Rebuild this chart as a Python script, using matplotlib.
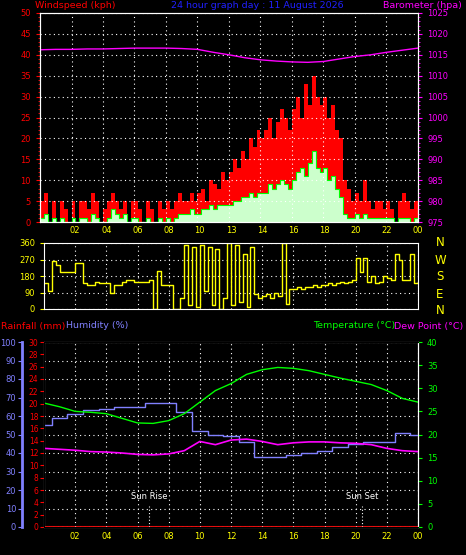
import numpy as np
import matplotlib
matplotlib.use("Agg")
import matplotlib.pyplot as plt
from matplotlib.ticker import MultipleLocator

hour_ticks = [2, 4, 6, 8, 10, 12, 14, 16, 18, 20, 22, 24]
mid_tick_labels = ["02", "04", "06", "08", "10", "13", "14", "16", "18", "20", "22", "00"]
bot_tick_labels = ["02", "04", "06", "08", "10", "12", "14", "16", "18", "20", "22", "00"]

gust = [5,7,0,5,0,5,3,0, 5,0,5,5,3,7,5,0, 3,5,7,5,3,5,0,5, 5,3,0,5,3,0,5,3,
        5,3,5,7,5,5,7,5, 7,8,5,10,9,8,12,10, 12,15,13,17,15,20,18,22, 20,22,25,20,24,27,25,22,
        27,30,25,33,28,35,30,28, 30,25,28,22,20,10,8,5, 7,5,10,5,3,5,5,3, 5,3,0,5,7,5,3,5]
avg = [1,2,0,1,0,1,0,0, 1,0,1,1,0,2,1,0, 0,1,3,2,1,2,0,1, 1,0,0,1,0,0,1,0,
       1,0,1,2,2,2,3,2, 2,3,3,4,3,4,4,4, 4,5,5,6,6,7,6,7, 7,7,9,8,9,10,9,8,
       10,12,13,11,14,17,13,12, 13,10,11,8,6,2,1,1, 2,1,2,1,1,1,1,1, 1,1,0,1,1,1,0,1]
direction = [140,100,260,240,200,200,200,200, 250,250,140,130,130,150,140,140,
             140,90,130,130,150,160,160,150, 150,150,150,160,0,210,130,130,
             130,0,0,60,350,20,340,10, 350,100,340,20,330,0,60,360,
             20,350,40,300,10,340,80,60, 70,80,60,90,70,360,30,110,
             110,120,110,120,120,130,120,130, 130,140,130,140,150,140,150,160,
             280,200,280,150,180,140,150,180, 170,160,300,270,160,160,300,140]
hours = list(range(25))
baro = [1016.2,1016.3,1016.3,1016.4,1016.4,1016.5,1016.6,1016.6,1016.6,1016.5,1016.3,1015.6,1015.0,
        1014.3,1013.8,1013.5,1013.3,1013.2,1013.4,1014.0,1014.6,1015.0,1015.6,1016.1,1016.6]
humidity = [55,59,61,63,64,65,65,67,67,62,52,50,49,46,38,38,39,40,41,43,45,46,46,51,50]
temp = [26.8,26,25,24.8,24.5,23.5,22.5,22.4,23,24.5,27,29.5,31,33,34,34.5,34.3,33.8,33,32.2,31.5,30.8,29.5,27.8,27]
dew = [17,16.8,16.6,16.3,16.2,16,15.7,15.6,15.8,16.5,18.5,17.8,18.8,19,18.5,17.8,18.2,18.4,18.4,18.2,18.1,17.8,17,16.5,16.3]
rain = [0]*25
sunrise, sunset = 6.75, 20.4

plt.rcParams['font.family'] = ['DejaVu Sans']
fig = plt.figure(figsize=(4.66, 5.55), dpi=100, facecolor='black')
W, H = 466, 555
def ax_rect(x0, y0, x1, y1):
    return [x0/W, 1-y1/H, (x1-x0)/W, (y1-y0)/H]

FS = 6
HFS = 6.8
grid_kw = dict(color='white', linestyle=(0, (1, 3)), linewidth=0.8)

def style(ax):
    ax.set_facecolor('black')
    for s in ax.spines.values():
        s.set_color('white')
    ax.set_xlim(0, 24)
    ax.set_xticks(hour_ticks)
    ax.grid(True, **grid_kw)

t15 = np.arange(97) * 0.25

# top
ax1 = fig.add_axes(ax_rect(40, 13, 418, 222))
style(ax1)
ax1.fill_between(t15, gust + [gust[-1]], step='post', color='#ff0000', linewidth=0)
ax1.fill_between(t15, avg + [avg[-1]], step='post', color='#ccffcc', linewidth=0)
ax1.step(t15, avg + [avg[-1]], where='post', color='#00ff00', linewidth=0.8)
ax1.set_ylim(0, 50)
ax1.yaxis.set_major_locator(MultipleLocator(5))
ax1.yaxis.set_minor_locator(MultipleLocator(1))
ax1.tick_params(axis='y', colors='#ff0000', labelsize=FS, which='both', length=3)
ax1.tick_params(axis='y', which='minor', length=1.5)
ax1.tick_params(axis='x', length=0, labelbottom=False)
ax1b = ax1.twinx()
ax1b.plot(hours, baro, color='#ff00ff', linewidth=1)
ax1b.set_ylim(975, 1025)
ax1b.yaxis.set_major_locator(MultipleLocator(5))
ax1b.yaxis.set_minor_locator(MultipleLocator(1))
ax1b.tick_params(axis='y', colors='#ff00ff', labelsize=FS, which='both', length=3)
ax1b.tick_params(axis='y', which='minor', length=1.5)
for s in ax1b.spines.values():
    s.set_color('white')
fig.text(35/W, 1-6/H, "Windspeed (kph)", color='#ff0000', fontsize=HFS, va='center')
fig.text(257/W, 1-6/H, "24 hour graph day : 11 August 2026", color='#2020ff', fontsize=HFS, va='center', ha='center')
fig.text(462/W, 1-6/H, "Barometer (hpa)", color='#ff00ff', fontsize=HFS, va='center', ha='right')

# middle
ax2 = fig.add_axes(ax_rect(44, 243, 418, 309))
style(ax2)
ax2.step(t15, direction + [150], where='post', color='#ffff00', linewidth=1)
ax2.set_ylim(0, 360)
ax2.set_yticks([0, 90, 180, 270, 360])
ax2.tick_params(axis='y', colors='#ffff00', labelsize=FS, length=3)
ax2.tick_params(axis='x', colors='#ffff00', labelsize=FS, length=0,
                labelbottom=False, labeltop=True, pad=6)
ax2.set_xticklabels(mid_tick_labels)
for i, lab in enumerate(["N", "W", "S", "E", "N"]):
    fig.text(440/W, 1-(243+i*17)/H, lab, color='#ffff00', fontsize=8.5, ha='center', va='center')

fig.text(1/W, 1-326/H, "Rainfall (mm)", color='#ff0000', fontsize=HFS, va='center')
fig.text(66/W, 1-326/H, "Humidity (%)", color='#8080ff', fontsize=HFS, va='center')
fig.text(313/W, 1-326/H, "Temperature (°C)", color='#00ff00', fontsize=HFS, va='center')
fig.text(463/W, 1-326/H, "Dew Point (°C)", color='#ff00ff', fontsize=HFS, va='center', ha='right')

# bottom
ax3 = fig.add_axes(ax_rect(44, 342, 418, 527))
style(ax3)
ax3.set_ylim(0, 30)
ax3.yaxis.set_major_locator(MultipleLocator(2))
ax3.tick_params(axis='y', colors='#ff0000', labelsize=FS - 0.5, length=3, pad=1)
ax3.tick_params(axis='x', colors='#ffff00', labelsize=FS, length=0)
ax3.set_xticklabels(bot_tick_labels)
ax3.grid(False)
ax3.plot(hours, rain, color='#ff0000', linewidth=1.5)
axh = ax3.twinx()
axh.spines['right'].set_visible(False)
axh.spines['left'].set_position(('outward', 16))
axh.spines['left'].set_color('#8080ff')
axh.spines['left'].set_linewidth(2)
axh.yaxis.set_label_position('left')
axh.yaxis.tick_left()
axh.set_ylim(0, 100)
axh.yaxis.set_major_locator(MultipleLocator(10))
axh.tick_params(axis='y', colors='#8080ff', labelsize=FS, length=3, pad=1)
axh.grid(True, axis='y', **grid_kw)
for h in hour_ticks:
    axh.axvline(h, **grid_kw)
axh.step(hours, humidity, where='mid', color='#8080ff', linewidth=1)
axt = ax3.twinx()
axt.set_ylim(0, 40)
axt.yaxis.set_major_locator(MultipleLocator(5))
axt.tick_params(axis='y', colors='#00ff00', labelsize=FS, length=3)
axt.spines['right'].set_color('white')
axt.plot(hours, temp, color='#00ff00', linewidth=1)
axt.plot(hours, dew, color='#ff00ff', linewidth=1.2)
axt.set_xlim(0, 24)
for t, lab in [(sunrise, "Sun Rise"), (sunset, "Sun Set")]:
    axt.plot([t, t], [0, 4.5], color='white', linestyle=(0, (1, 2)), linewidth=0.8)
    axt.text(t, 6.5, lab, color='white', fontsize=6, ha='center', va='center')

fig.savefig("out.png", dpi=100, facecolor='black')
